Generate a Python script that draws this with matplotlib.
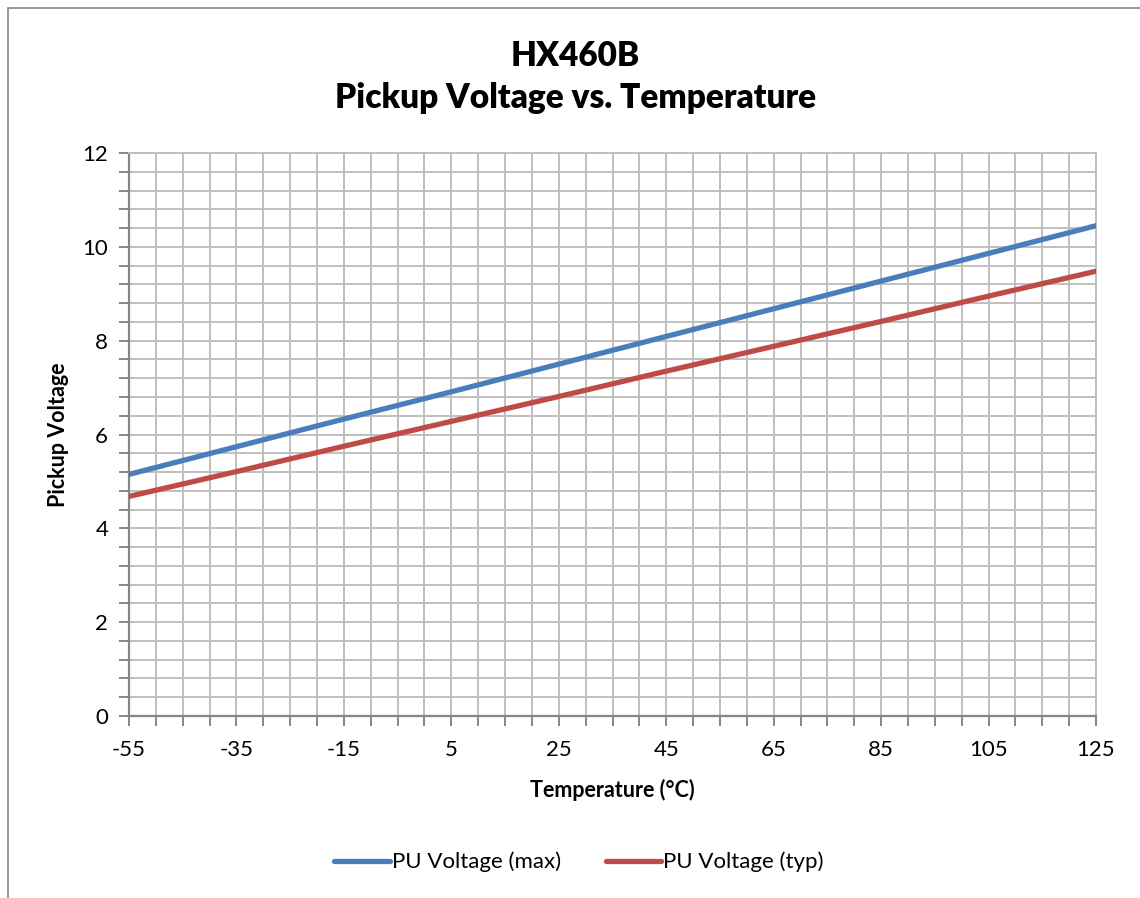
import numpy as np
import matplotlib
matplotlib.use("Agg")
import matplotlib.pyplot as plt
from matplotlib.patches import Rectangle
from matplotlib.ticker import MultipleLocator

plt.rcParams["font.family"] = ["Lato", "DejaVu Sans"]
plt.rcParams["axes.unicode_minus"] = False

temp = [-55, -35, -15, 5, 25, 45, 65, 85, 105, 125]
pu_max = [5.15, 5.74, 6.33, 6.91, 7.50, 8.09, 8.68, 9.27, 9.86, 10.45]
pu_typ = [4.68, 5.21, 5.75, 6.28, 6.81, 7.35, 7.88, 8.41, 8.95, 9.48]
x_ticks = [-55, -35, -15, 5, 25, 45, 65, 85, 105, 125]

fig = plt.figure(figsize=(11.4, 8.98), dpi=100)
fig.patches.append(Rectangle((8 / 1140, -0.01), 1.2, 1 - 8 / 898 + 0.01, transform=fig.transFigure,
                             fill=False, edgecolor="#888888", lw=1.2))
ax = fig.add_axes([129 / 1140, 182 / 898, (1096 - 129) / 1140, (716 - 153) / 898])

ax.plot(temp, pu_max, color="#4A7EBB", lw=3.8, solid_capstyle="round", label="PU Voltage (max)", zorder=3)
ax.plot(temp, pu_typ, color="#BE4B48", lw=3.8, solid_capstyle="round", label="PU Voltage (typ)", zorder=3)

ax.set_xlim(-55, 125)
ax.set_ylim(0, 12)
ax.set_xticks(x_ticks)
ax.xaxis.set_minor_locator(MultipleLocator(5))
ax.yaxis.set_major_locator(MultipleLocator(2))
ax.yaxis.set_minor_locator(MultipleLocator(0.4))
ax.grid(True, which="both", color="#BFBFBF", lw=1.4, zorder=0)
ax.set_axisbelow(True)
for s in ("top", "right"):
    ax.spines[s].set_color("#BFBFBF")
    ax.spines[s].set_linewidth(1.4)
for s in ("left", "bottom"):
    ax.spines[s].set_color("#868686")
    ax.spines[s].set_linewidth(1.6)
ax.tick_params(which="both", length=7, width=1.4, color="#868686", labelsize=16, pad=8)
ax.tick_params(axis="x", pad=10)

ax.set_xlabel("Temperature (°C)", fontsize=15.5, fontweight="bold", labelpad=14)
ax.set_ylabel("Pickup Voltage", fontsize=15.5, fontweight="bold", labelpad=10)
fig.text(0.505, 1 - 77 / 898, "HX460B\nPickup Voltage vs. Temperature", ha="center", va="center",
         fontsize=24, fontweight="heavy", linespacing=1.35)

ax.legend(loc="center", bbox_to_anchor=(0.508, 1 - 862 / 898), bbox_transform=fig.transFigure,
          ncol=2, frameon=False, fontsize=16, handlelength=2.5, handletextpad=0.1, columnspacing=2.0)

fig.savefig("out.png", dpi=100)
